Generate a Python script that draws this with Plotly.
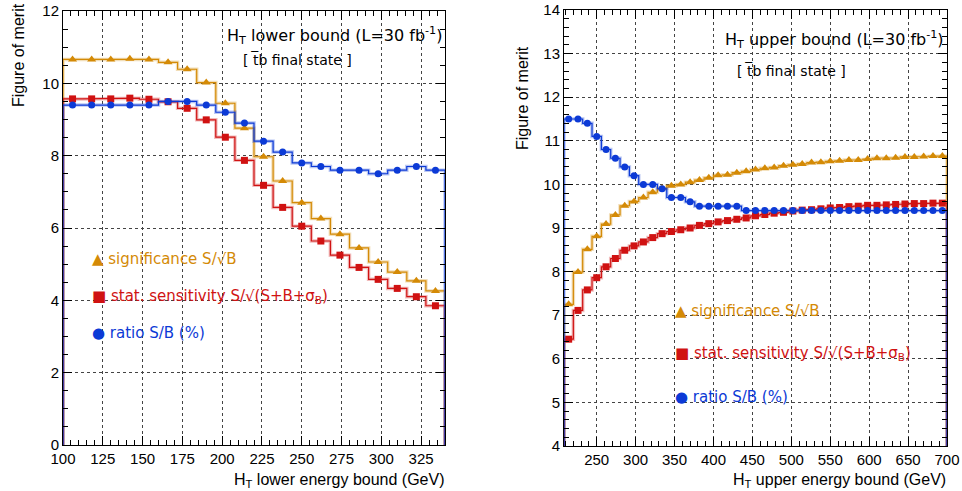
import numpy as np
import plotly.graph_objects as go

# ---- H_T lower-bound scan (bins of 12 GeV, 100-340 GeV) ----
lo_edges_start, lo_bin_width, lo_nbins = 100, 12, 20
sig_lo = [10.66, 10.66, 10.66, 10.68, 10.66, 10.58, 10.39, 10.02, 9.45, 8.76,
          7.97, 7.30, 6.70, 6.26, 5.83, 5.45, 5.06, 4.78, 4.54, 4.26]
sens_lo = [9.57, 9.57, 9.57, 9.59, 9.56, 9.49, 9.31, 8.99, 8.51, 7.87,
           7.18, 6.57, 6.05, 5.64, 5.25, 4.91, 4.58, 4.33, 4.10, 3.85]
ratio_lo = [9.4, 9.4, 9.4, 9.4, 9.4, 9.5, 9.5, 9.4, 9.2, 8.9,
            8.4, 8.1, 7.8, 7.7, 7.6, 7.6, 7.5, 7.6, 7.7, 7.6]

# ---- H_T upper-bound scan (bins of 12 GeV, 208-700 GeV) ----
hi_edges_start, hi_bin_width, hi_nbins = 208, 12, 41
sig_hi = [7.25, 7.99, 8.51, 8.81, 9.09, 9.30, 9.51, 9.61, 9.70, 9.82,
          9.91, 9.97, 10.00, 10.05, 10.10, 10.15, 10.21, 10.22, 10.27, 10.30,
          10.34, 10.37, 10.39, 10.43, 10.45, 10.47, 10.50, 10.51, 10.53, 10.54,
          10.56, 10.56, 10.58, 10.60, 10.60, 10.61, 10.63, 10.63, 10.64, 10.65,
          10.65]
sens_hi = [6.45, 7.11, 7.58, 7.86, 8.11, 8.30, 8.49, 8.59, 8.68, 8.78,
           8.87, 8.92, 8.96, 9.00, 9.06, 9.10, 9.14, 9.17, 9.20, 9.23,
           9.28, 9.31, 9.34, 9.36, 9.39, 9.41, 9.42, 9.44, 9.46, 9.47,
           9.49, 9.50, 9.52, 9.52, 9.53, 9.54, 9.55, 9.56, 9.56, 9.57,
           9.57]
ratio_hi = [11.5, 11.5, 11.4, 11.1, 10.8, 10.6, 10.4, 10.2, 10.0, 10.0,
            9.9, 9.7, 9.7, 9.6, 9.5, 9.5, 9.5, 9.5, 9.5, 9.4,
            9.4, 9.4, 9.4, 9.4, 9.4, 9.4, 9.4, 9.4, 9.4, 9.4,
            9.4, 9.4, 9.4, 9.4, 9.4, 9.4, 9.4, 9.4, 9.4, 9.4,
            9.4]

lo_xticks = [100, 125, 150, 175, 200, 225, 250, 275, 300, 325]
hi_xticks = [250, 300, 350, 400, 450, 500, 550, 600, 650, 700]

ORANGE = "#d48a06"
RED = "#d01212"
BLUE = "#0c3ad6"

W, H = 962, 491


def px(x):
    return x / W


def py(y):
    return 1 - y / H


def step_xy(edges, vals, base):
    """Histogram outline: starts and ends on the axis floor."""
    xs, ys = [edges[0]], [base]
    for i, v in enumerate(vals):
        xs += [edges[i], edges[i + 1]]
        ys += [v, v]
    xs.append(edges[-1])
    ys.append(base)
    return xs, ys


fig = go.Figure()

panels = [
    ("x", "y", lo_edges_start, lo_bin_width, lo_nbins, 0,
     [(sig_lo, ORANGE, "triangle-up", 8), (sens_lo, RED, "square", 7), (ratio_lo, BLUE, "circle", 7)]),
    ("x2", "y2", hi_edges_start, hi_bin_width, hi_nbins, 4,
     [(sig_hi, ORANGE, "triangle-up", 8), (sens_hi, RED, "square", 7), (ratio_hi, BLUE, "circle", 7)]),
]

for xa, ya, e0, bw, nb, floor, series in panels:
    edges = e0 + bw * np.arange(nb + 1)
    centers = edges[:-1] + bw / 2
    for vals, col, sym, msize in series:
        sx, sy = step_xy(list(edges), vals, floor)
        # soft halo under the outline
        fig.add_trace(go.Scatter(x=sx, y=sy, xaxis=xa, yaxis=ya, mode="lines",
                                 line=dict(color=col, width=3.5), opacity=0.28,
                                 hoverinfo="skip", showlegend=False))
        fig.add_trace(go.Scatter(x=sx, y=sy, xaxis=xa, yaxis=ya, mode="lines",
                                 line=dict(color=col, width=1.2),
                                 hoverinfo="skip", showlegend=False))
        fig.add_trace(go.Scatter(x=centers, y=vals, xaxis=xa, yaxis=ya, mode="markers",
                                 marker=dict(color=col, symbol=sym, size=msize, line=dict(width=0)),
                                 showlegend=False))

tickfont = dict(family="Liberation Sans, Arial, sans-serif", size=15, color="black")
common = dict(showline=True, linecolor="black", linewidth=1, mirror="ticks",
              ticks="inside", ticklen=9, tickcolor="black", tickwidth=1,
              showgrid=True, gridcolor="#444444", griddash="dot", gridwidth=1,
              zeroline=False, tickfont=tickfont, automargin=False)

fig.update_layout(
    width=W, height=H,
    margin=dict(l=0, r=0, t=0, b=0),
    paper_bgcolor="white", plot_bgcolor="white",
    showlegend=False,
    xaxis=dict(domain=[px(63), px(445)], range=[100, 340], anchor="y",
               tickmode="array", tickvals=lo_xticks,
               minor=dict(ticks="inside", ticklen=5, dtick=5, tick0=100, tickcolor="black", showgrid=False),
               **common),
    yaxis=dict(domain=[py(445), py(11)], range=[0, 12], anchor="x",
               dtick=2, tick0=0,
               minor=dict(ticks="inside", ticklen=5, dtick=0.5, tick0=0, tickcolor="black", showgrid=False),
               **common),
    xaxis2=dict(domain=[px(564), px(947)], range=[208, 700], anchor="y2",
                tickmode="array", tickvals=hi_xticks,
                minor=dict(ticks="inside", ticklen=5, dtick=10, tick0=0, tickcolor="black", showgrid=False),
                **common),
    yaxis2=dict(domain=[py(446), py(10)], range=[4, 14], anchor="x2",
                dtick=1, tick0=0,
                minor=dict(ticks="inside", ticklen=5, dtick=0.2, tick0=0, tickcolor="black", showgrid=False),
                **common),
)

txt_font = "DejaVu Sans, Lato, sans-serif"
ann = []


def note(x, y, text, size, color="black", xanchor="left", angle=0):
    ann.append(dict(x=px(x), y=py(y), xref="paper", yref="paper", text=text,
                    showarrow=False, xanchor=xanchor, yanchor="middle", textangle=angle,
                    font=dict(family=txt_font, size=size, color=color)))


axis_font = "Liberation Sans, Arial, sans-serif"
for xc, yc in [(18, 55), (522, 98)]:
    ann.append(dict(x=px(xc), y=py(yc), xref="paper", yref="paper", text="Figure of merit",
                    showarrow=False, textangle=-90, xanchor="center", yanchor="middle",
                    font=dict(family=axis_font, size=16, color="black")))
# x-axis titles, bottom-anchored at the page edge below the tick labels
ann.append(dict(x=px(446), y=0, xref="paper", yref="paper",
                text="H<sub>T</sub> lower energy bound (GeV)", showarrow=False,
                xanchor="right", yanchor="bottom", borderpad=0,
                font=dict(family=axis_font, size=16, color="black")))
ann.append(dict(x=px(947), y=0, xref="paper", yref="paper",
                text="H<sub>T</sub> upper energy bound (GeV)", showarrow=False,
                xanchor="right", yanchor="bottom", borderpad=0,
                font=dict(family=axis_font, size=16, color="black")))

# panel headers
note(444, 35, "H<sub>T</sub> lower bound (L=30 fb<sup>-1</sup>)", 16, xanchor="right")
note(241, 60, "[ t\u0305b final state ]", 14)
note(946, 40, "H<sub>T</sub> upper bound (L=30 fb<sup>-1</sup>)", 16, xanchor="right")
note(735, 71, "[ t\u0305b final state ]", 14)

# in-plot keys
for x0, ys in [(90, (259, 296, 333)), (673, (311, 353, 397))]:
    note(x0, ys[0], "\u25B2 significance S/\u221AB", 15, ORANGE)
    note(x0, ys[1], "\u25A0 stat. sensitivity S/\u221A(S+B+\u03C3<sub>B</sub>)", 15, RED)
    note(x0, ys[2], "\u25CF ratio S/B (%)", 15, BLUE)

fig.update_layout(annotations=ann)
fig.write_html("out.html")
